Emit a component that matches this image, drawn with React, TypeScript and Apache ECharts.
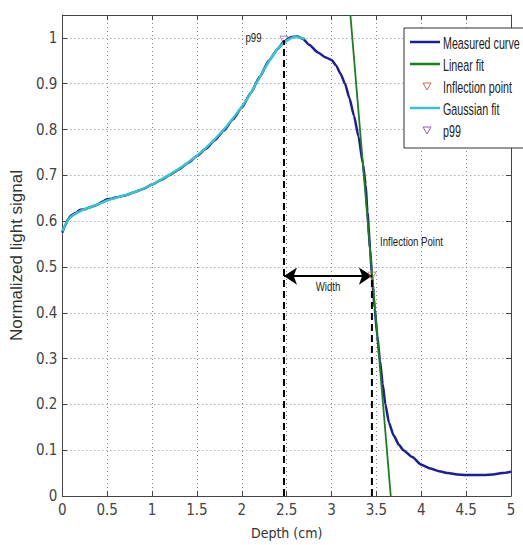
import React, { useEffect, useRef } from 'react';
import * as echarts from 'echarts';

// Measured curve (depth in cm, normalized light signal)
const measuredX = [
  0.0, 0.03, 0.06, 0.1, 0.15, 0.2, 0.25, 0.3, 0.35, 0.4, 0.45, 0.5, 0.55, 0.6, 0.7, 0.8, 0.9,
  1.0, 1.1, 1.2, 1.3, 1.4, 1.5, 1.6, 1.7, 1.8, 1.9, 2.0, 2.1, 2.2, 2.3, 2.4, 2.47, 2.55, 2.62,
  2.68, 2.75, 2.85, 2.93, 3.0, 3.05, 3.1, 3.15, 3.2, 3.25, 3.3, 3.35, 3.38, 3.4, 3.43, 3.45,
  3.48, 3.51, 3.54, 3.57, 3.6, 3.64, 3.69, 3.75, 3.8, 3.9, 4.0, 4.1, 4.2, 4.3, 4.4, 4.5, 4.6,
  4.7, 4.8, 4.9, 5.0,
];
const measuredY = [
  0.575, 0.59, 0.603, 0.613, 0.618, 0.625, 0.626, 0.63, 0.633, 0.637, 0.643, 0.648, 0.649, 0.652,
  0.656, 0.663, 0.67, 0.68, 0.69, 0.701, 0.713, 0.727, 0.742, 0.758, 0.777, 0.798, 0.822, 0.848,
  0.88, 0.915, 0.95, 0.976, 0.992, 1.002, 1.003, 0.998, 0.985, 0.968, 0.958, 0.952, 0.94, 0.922,
  0.9, 0.868, 0.83, 0.785, 0.725, 0.68, 0.62, 0.54, 0.48, 0.41, 0.35, 0.295, 0.245, 0.2, 0.16,
  0.133, 0.112, 0.1, 0.085, 0.068, 0.06, 0.054, 0.05, 0.047, 0.046, 0.046, 0.046, 0.047, 0.05,
  0.053,
];

// Gaussian fit
const gaussX = [0, 0.05, 0.1, 0.2, 0.3, 0.4, 0.5, 0.6, 0.8, 1.0, 1.2, 1.4, 1.6, 1.8, 2.0, 2.1, 2.2, 2.3, 2.4, 2.5, 2.6, 2.7];
const gaussY = [0.578, 0.598, 0.61, 0.622, 0.63, 0.637, 0.645, 0.651, 0.663, 0.68, 0.702, 0.728, 0.76, 0.8, 0.85, 0.88, 0.914, 0.948, 0.976, 0.994, 1.002, 0.998];

// Linear fit through the inflection point
const linearX = [3.21, 3.66];
const linearY = [1.05, 0];

const inflectionPoint = [3.45, 0.48];
const p99Point = [2.47, 0.995];

const annotationTexts = ['Width', 'Inflection Point', 'p99'];
const annotationX = [2.96, 3.54, 2.22];
const annotationY = [0.457, 0.556, 1.0];

const legendNames = ['Measured curve', 'Linear fit', 'Inflection point', 'Gaussian fit', 'p99'];

const NARROW = '"Liberation Sans Narrow", "Arial Narrow", "DejaVu Sans Condensed", "Liberation Sans", sans-serif';
const SANS = '"Liberation Sans", Arial, sans-serif';
const BLUE = '#1d1d9a';
const GREEN = '#1e7d1e';
const CYAN = '#36c3cc';
const INFL = '#c46a55';
const PURPLE = '#8d5fb0';
const AXIS = '#444';

export default function App() {
  const ref = useRef<HTMLDivElement>(null);

  useEffect(() => {
    if (!ref.current) return;
    const chart = echarts.init(ref.current, undefined, { renderer: 'svg' });

    const zip = (xs: number[], ys: number[]) => xs.map((x, i) => [x, ys[i]]);

    const baseAxisLine = { show: true, onZero: false, lineStyle: { color: AXIS, width: 1 } };
    const tick = { show: true, inside: true, length: 5, lineStyle: { color: AXIS } };
    const grid = { show: true, lineStyle: { type: [1, 3], color: '#888', width: 1 } };

    const legendRows = [42, 64, 86, 108, 130];
    const lx = 404;
    const graphic: any[] = [
      {
        type: 'rect', z: 100,
        shape: { x: lx, y: 28, width: 140, height: 120 },
        style: { fill: '#fff', stroke: '#333', lineWidth: 1 },
      },
    ];
    const legendColors = [BLUE, GREEN, INFL, CYAN, PURPLE];
    legendNames.forEach((name, i) => {
      const y = legendRows[i];
      if (i === 2 || i === 4) {
        graphic.push({
          type: 'polygon', z: 101,
          shape: { points: [[423, y - 3], [431, y - 3], [427, y + 4]] },
          style: { fill: 'none', stroke: legendColors[i], lineWidth: 1 },
        });
      } else {
        graphic.push({
          type: 'line', z: 101,
          shape: { x1: 410, y1: y, x2: 440, y2: y },
          style: { stroke: legendColors[i], lineWidth: 2.5 },
        });
      }
      graphic.push({
        type: 'text', z: 101, x: 443, y: y + 1, scaleX: 0.63,
        style: { text: name, fontFamily: SANS, fontSize: 17, fill: '#222', align: 'left', verticalAlign: 'middle' },
      });
    });

    chart.setOption({
      animation: false,
      backgroundColor: '#fff',
      grid: { left: 50, right: 12, top: 15, bottom: 42 },
      xAxis: [
        {
          type: 'value', min: 0, max: 5, interval: 0.5,
          name: 'Depth (cm)', nameLocation: 'middle', nameGap: 30,
          nameTextStyle: { fontFamily: NARROW, fontSize: 14, color: '#333' },
          axisLine: baseAxisLine, axisTick: tick,
          axisLabel: { margin: 6, fontFamily: NARROW, fontSize: 15, color: AXIS, formatter: (v: number) => String(+v.toFixed(1)) },
          splitLine: grid,
        },
        {
          type: 'value', min: 0, max: 5, interval: 0.5, position: 'top',
          axisLine: baseAxisLine, axisTick: tick, axisLabel: { show: false }, splitLine: { show: false },
        },
      ],
      yAxis: [
        {
          type: 'value', min: 0, max: 1.05, interval: 0.1,
          name: 'Normalized light signal', nameLocation: 'middle', nameGap: 28,
          nameTextStyle: { fontFamily: SANS, fontSize: 17, color: '#333' },
          axisLine: baseAxisLine, axisTick: tick,
          axisLabel: {
            margin: 5, fontFamily: NARROW, fontSize: 15, color: AXIS,
            formatter: (v: number) => (v > 1.001 ? '' : String(+v.toFixed(1))),
          },
          splitLine: grid,
        },
        {
          type: 'value', min: 0, max: 1.05, interval: 0.1, position: 'right',
          axisLine: baseAxisLine, axisTick: tick, axisLabel: { show: false }, splitLine: { show: false },
        },
      ],
      graphic,
      series: [
        {
          name: 'p99', type: 'scatter', z: 1,
          data: [p99Point],
          symbol: 'triangle', symbolRotate: 180, symbolSize: 8,
          itemStyle: { color: 'rgba(0,0,0,0)', borderColor: PURPLE, borderWidth: 1 },
        },
        {
          name: 'Measured curve', type: 'line', z: 2,
          data: zip(measuredX, measuredY),
          showSymbol: false, smooth: 0.2, smoothMonotone: 'x',
          lineStyle: { color: BLUE, width: 2.5 },
        },
        {
          name: 'Gaussian fit', type: 'line', z: 3,
          data: zip(gaussX, gaussY),
          showSymbol: false, smooth: 0.3,
          lineStyle: { color: CYAN, width: 2.5 },
        },
        {
          name: 'Linear fit', type: 'line', z: 3,
          data: zip(linearX, linearY),
          showSymbol: false,
          lineStyle: { color: GREEN, width: 1.8 },
        },
        {
          name: 'p99 marker line', type: 'line', z: 4,
          data: [[p99Point[0], 0], [p99Point[0], p99Point[1]]],
          showSymbol: false,
          lineStyle: { color: '#000', width: 2, type: [7, 4] },
          markLine: {
            silent: true,
            symbol: ['arrow', 'arrow'],
            symbolSize: 13,
            label: { show: false },
            lineStyle: { color: '#000', width: 2, type: 'solid' },
            data: [[
              { coord: [p99Point[0], inflectionPoint[1]] },
              { coord: [inflectionPoint[0], inflectionPoint[1]] },
            ]],
          },
        },
        {
          name: 'Inflection marker line', type: 'line', z: 4,
          data: [[inflectionPoint[0], 0], [inflectionPoint[0], inflectionPoint[1]]],
          showSymbol: false,
          lineStyle: { color: '#000', width: 2, type: [7, 4] },
        },
        {
          name: 'Inflection point', type: 'scatter', z: 5,
          data: [inflectionPoint],
          symbol: 'triangle', symbolRotate: 180, symbolSize: 8,
          itemStyle: { color: 'rgba(0,0,0,0)', borderColor: INFL, borderWidth: 1 },
        },
      ],
    });

    // Annotation texts anchored in data coordinates
    const aligns = ['center', 'left', 'right'];
    const annotGraphic = annotationTexts.map((t, i) => {
      const p = chart.convertToPixel({ xAxisIndex: 0, yAxisIndex: 0 }, [annotationX[i], annotationY[i]]) as number[];
      return {
        type: 'text', z: 50, x: p[0], y: p[1], scaleX: 0.74,
        style: { text: t, fontFamily: SANS, fontSize: 13, fill: '#222', align: aligns[i], verticalAlign: 'middle' },
      };
    });
    chart.setOption({ graphic: [...graphic, ...annotGraphic] });

    return () => chart.dispose();
  }, []);

  return (
    <div
      ref={ref}
      style={{ position: 'fixed', left: 0, top: 0, width: 523, height: 545, background: '#fff' }}
    />
  );
}
